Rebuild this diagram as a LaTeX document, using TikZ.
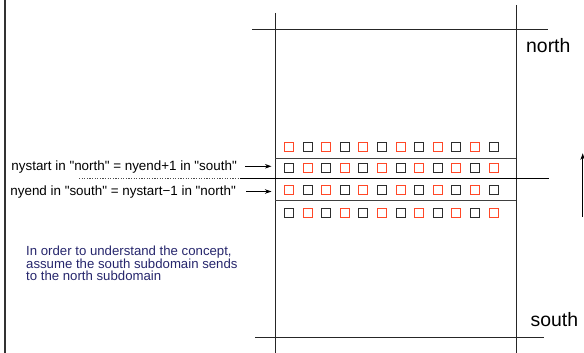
\documentclass[tikz,border=0pt]{standalone}
\usepackage{fontspec}
\setmainfont{Liberation Sans}[Ligatures=TeXOff]
\usetikzlibrary{arrows.meta}
\definecolor{cellred}{RGB}{255,72,40}
\definecolor{celldark}{RGB}{45,45,45}
\definecolor{notenavy}{RGB}{38,38,108}
\tikzset{
  grid/.style={line width=0.9pt, draw=black!85},
  rowline/.style={line width=0.9pt, draw=black!75},
  cellbox/.style={draw, line width=1pt, minimum size=9pt, inner sep=0pt},
  redcell/.style={cellbox, draw=cellred},
  darkcell/.style={cellbox, draw=celldark},
  lbl/.style={font=\fontsize{13.4}{15}\selectfont, inner sep=0pt},
  domlbl/.style={font=\fontsize{19.4}{22}\selectfont, inner sep=0pt},
  ptr/.style={line width=0.8pt, -{Stealth[length=6.5pt,width=4.5pt]}},
}
\begin{document}
\begin{tikzpicture}[x=1pt, y=-1pt]
\useasboundingbox (0,0) rectangle (584,353);

% left frame edge
\draw[line width=1.6pt, black!80] (5,0) -- (5,353);

% subdomain outline
\draw[grid] (275,13) -- (275,353);
\draw[grid] (516,5) -- (516,353);
\draw[grid] (252,29.3) -- (548,29.3);
\draw[grid] (255,337) -- (544,337);

% ghost rows and the subdomain boundary
\draw[rowline] (275,158.7) -- (516,158.7);
\draw[rowline] (275,200.7) -- (516,200.7);
\draw[line width=1.3pt] (240,178.7) -- (549,178.7);
\draw[line width=0.7pt, dash pattern=on 1.2pt off 1.4pt, black!70] (79,178.2) -- (240,178.2);

% grid cells: four rows of twelve, alternating colours
\foreach \r/\y/\first in {1/147.3/0, 2/167.8/1, 3/190/0, 4/212.7/1} {
  \foreach \c in {0,...,11} {
    \pgfmathtruncatemacro{\odd}{mod(\c+\first,2)}
    \ifnum\odd=0
      \node[redcell] (cell-\r-\c) at ({289+18.6*\c},\y) {};
    \else
      \node[darkcell] (cell-\r-\c) at ({289+18.6*\c},\y) {};
    \fi
  }
}

% domain names
\node[domlbl, anchor=base west] (north) at (526,52.3) {north};
\node[domlbl, anchor=base west] (south) at (530.5,326) {south};

% index relations
\node[lbl, anchor=base east] (rel1) at (237,170.7) {nystart in "north" = nyend+1 in "south"};
\node[lbl, anchor=base east] (rel2) at (236,195.7) {nyend in "south" = nystart\textminus 1 in "north"};
\coordinate (tip1) at (271.5,166.3);
\coordinate (tip2) at (271.5,191.5);
\draw[ptr] (rel1.east |- tip1) ++(8,0) -- (tip1);
\draw[ptr] (rel2.east |- tip2) ++(10,0) -- (tip2);

% direction of the exchange
\coordinate (up0) at (582.7,217);
\coordinate (up1) at (582.7,153.3);
\draw[ptr] (up0) -- (up1);

% explanatory note
\node[lbl, text=notenavy, anchor=base west, align=left,
      font=\fontsize{13.2}{11.6}\selectfont] (note) at (26,280)
  {In order to understand the concept,\\assume the south subdomain sends\\to the north subdomain};
\end{tikzpicture}
\end{document}
